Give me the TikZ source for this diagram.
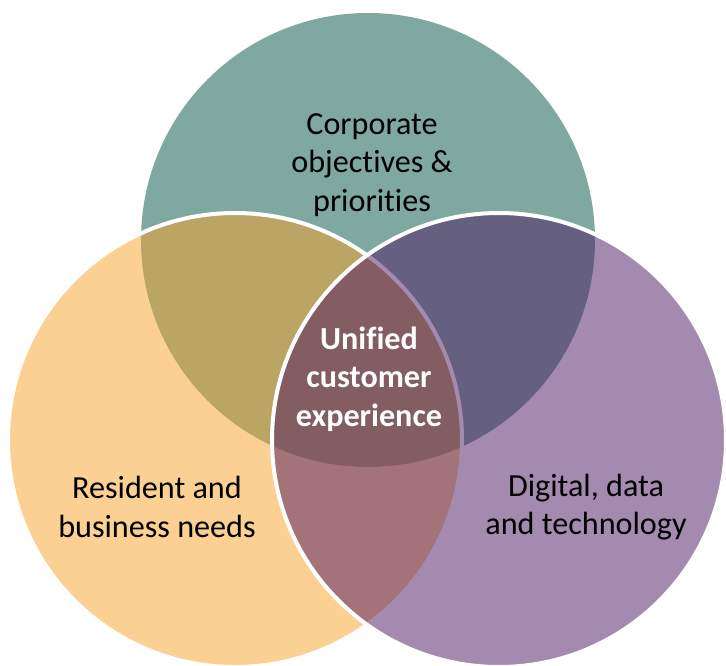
\documentclass[tikz,border=0pt]{standalone}
\usepackage{fontspec}
\setmainfont{Carlito}[Ligatures=CommonOff]
\definecolor{corpteal}{RGB}{127,169,160}
\definecolor{resorange}{RGB}{247,163,41}
\definecolor{digpurple}{RGB}{77,23,97}
\tikzset{
	venn/.style={circle, minimum size=9.08cm, inner sep=0pt},
	setlabel/.style={align=center, font=\fontsize{18.3}{21.8}\selectfont}
}
\begin{document}
\begin{tikzpicture}
		\useasboundingbox (0,0) rectangle (14.52,13.30);
		\fill[white] (0,0) rectangle (14.52,13.30);
		\node[venn, fill=corpteal] (corp) at (7.36,8.50) { };
		\node[venn, fill=resorange, fill opacity=0.5, draw=white, line width=0.08cm] (res) at (4.70,4.50) { };
		\node[venn, fill=digpurple, fill opacity=0.5, draw=white, line width=0.08cm] (dig) at (9.98,4.50) { };
		\node[setlabel] (corplabel) at (7.44,10.00) {Corporate\\objectives \&\\priorities};
		\node[setlabel] (reslabel) at (3.14,3.16) {Resident and\\business needs};
		\node[setlabel] (diglabel) at (11.72,3.16) {Digital, data\\and technology};
		\node[setlabel, text=white, font=\fontsize{18.3}{21.8}\selectfont\bfseries] (unified) at (7.38,5.72) {Unified\\customer\\experience};
\end{tikzpicture}
\end{document}
